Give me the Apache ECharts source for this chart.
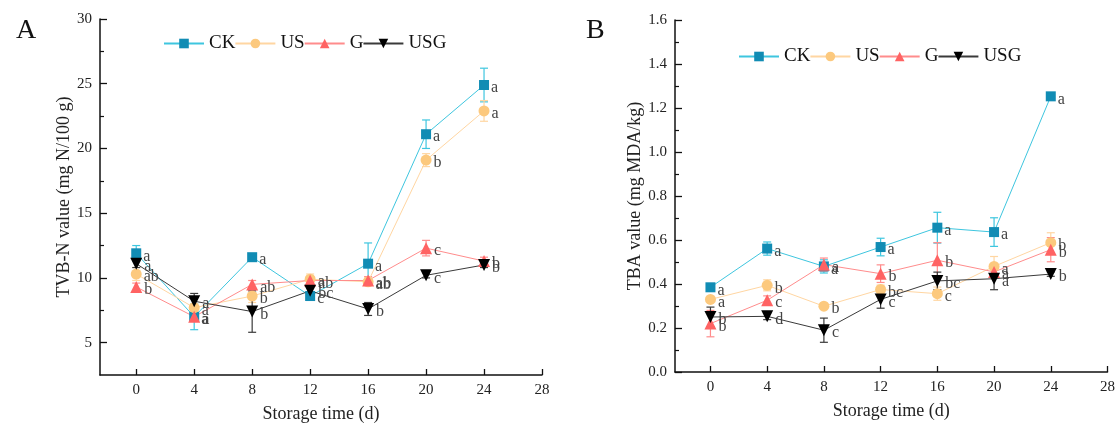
<!DOCTYPE html>
<html>
<head>
<meta charset="utf-8">
<script src="https://cdn.jsdelivr.net/npm/echarts@6/dist/echarts.min.js"></script>
<style>
  html, body { margin: 0; padding: 0; background: #fff; }
  #chart { width: 1118px; height: 428px; }
</style>
</head>
<body>
<div id="chart"></div>
<script>
// storage days
var days = [0, 4, 8, 12, 16, 20, 24];
var groups = ['CK', 'US', 'G', 'USG'];

// A: TVB-N (mg N/100 g)
var tvbnCK = [11.9, 7.0, 11.6, 8.6, 11.1, 21.1, 24.9];
var tvbnUS = [10.3, 7.7, 8.6, 9.9, 9.7, 19.1, 22.9];
var tvbnG = [9.3, 7.0, 9.5, 9.8, 9.8, 12.3, 11.3];
var tvbnUSG = [11.1, 8.2, 7.4, 9.0, 7.6, 10.2, 11.0];
var tvbnCKsd = [0.6, 1.0, 0.2, 0.3, 1.6, 1.1, 1.3];
var tvbnUSsd = [0.5, 0.3, 0.5, 0.4, 0.3, 0.5, 0.8];
var tvbnGsd = [0.3, 0.3, 0.3, 0.3, 0.3, 0.6, 0.3];
var tvbnUSGsd = [0.3, 0.6, 1.6, 0.3, 0.5, 0.2, 0.2];
var tvbnCKsig = ['a', 'a', 'a', 'c', 'a', 'a', 'a'];
var tvbnUSsig = ['ab', 'a', 'b', 'a', 'ab', 'b', 'a'];
var tvbnGsig = ['b', 'a', 'ab', 'ab', 'ab', 'c', 'b'];
var tvbnUSGsig = ['a', 'a', 'b', 'bc', 'b', 'c', 'b'];

// B: TBA (mg MDA/kg)
var tbaCK = [0.385, 0.561, 0.48, 0.568, 0.656, 0.636, 1.253];
var tbaUS = [0.33, 0.394, 0.299, 0.375, 0.356, 0.48, 0.588];
var tbaG = [0.22, 0.326, 0.488, 0.447, 0.508, 0.455, 0.556];
var tbaUSG = [0.25, 0.253, 0.19, 0.33, 0.414, 0.424, 0.445];
var tbaCKsd = [0.01, 0.03, 0.03, 0.04, 0.07, 0.065, 0.01];
var tbaUSsd = [0.01, 0.025, 0.01, 0.02, 0.03, 0.045, 0.045];
var tbaGsd = [0.06, 0.02, 0.03, 0.04, 0.08, 0.02, 0.055];
var tbaUSGsd = [0.045, 0.015, 0.055, 0.04, 0.04, 0.05, 0.01];
var tbaCKsig = ['a', 'a', 'a', 'a', 'a', 'a', 'a'];
var tbaUSsig = ['a', 'b', 'b', 'bc', 'c', 'a', 'b'];
var tbaGsig = ['b', 'c', 'a', 'b', 'b', 'a', 'b'];
var tbaUSGsig = ['b', 'd', 'c', 'c', 'bc', 'a', 'b'];

// tick labels
var xTicks = [0, 4, 8, 12, 16, 20, 24, 28];
var tvbnTicks = [5, 10, 15, 20, 25, 30];
var tvbnMinor = [7.5, 12.5, 17.5, 22.5, 27.5];

var serif = 'Liberation Serif';
var marker = { CK: '#118cb4', US: '#fcc97e', G: '#ff6363', USG: '#000000' };
var lineCol = { CK: '#3ec6df', US: '#ffd6a2', G: '#ff8c8c', USG: '#3a3a3a' };
var symbols = { CK: 'rect', US: 'circle', G: 'triangle', USG: 'path://M0,0L10,0L5,9Z' };
var symSize = { CK: 10, US: 11, G: 12, USG: 12 };

var chart = echarts.init(document.getElementById('chart'));

function lineSeries(name, vals, sig, idx) {
    return {
        name: name,
        type: 'line',
        xAxisIndex: idx,
        yAxisIndex: idx === 0 ? 0 : 2,
        data: days.map(function (d, i) { return [d, vals[i]]; }),
        symbol: symbols[name],
        symbolSize: symSize[name],
        showAllSymbol: true,
        itemStyle: { color: marker[name] },
        lineStyle: { color: lineCol[name], width: 1 },
        z: 3,
        label: {
            show: true,
            position: 'right',
            distance: 2,
            offset: [0, 3],
            fontFamily: serif,
            fontSize: 16,
            color: '#444',
            formatter: function (p) { return sig[p.dataIndex]; }
        }
    };
}

function errSeries(name, vals, sd, idx) {
    return {
        name: name + ' err',
        type: 'custom',
        xAxisIndex: idx,
        yAxisIndex: idx === 0 ? 0 : 2,
        z: 2,
        data: days.map(function (d, i) { return [d, vals[i] - sd[i], vals[i] + sd[i]]; }),
        renderItem: function (params, api) {
            var top = api.coord([api.value(0), api.value(2)]);
            var bot = api.coord([api.value(0), api.value(1)]);
            var w = 4;
            var st = { stroke: lineCol[name], lineWidth: 1.2 };
            return {
                type: 'group',
                children: [
                    { type: 'line', shape: { x1: top[0], y1: top[1], x2: bot[0], y2: bot[1] }, style: st },
                    { type: 'line', shape: { x1: top[0] - w, y1: top[1], x2: top[0] + w, y2: top[1] }, style: st },
                    { type: 'line', shape: { x1: bot[0] - w, y1: bot[1], x2: bot[0] + w, y2: bot[1] }, style: st }
                ]
            };
        }
    };
}

function xAxisOf(idx) {
    return {
        type: 'value',
        gridIndex: idx,
        min: -2.5,
        max: 28,
        name: 'Storage time (d)',
        nameLocation: 'middle',
        nameGap: 30,
        nameTextStyle: { fontFamily: serif, fontSize: 18, color: '#222' },
        axisLine: { show: true, onZero: false, lineStyle: { color: '#111', width: 1.5 } },
        axisTick: { show: true, inside: true, length: 6, customValues: xTicks, lineStyle: { color: '#111', width: 1.3 } },
        axisLabel: { customValues: xTicks, fontFamily: serif, fontSize: 15, color: '#222', margin: 8 },
        splitLine: { show: false }
    };
}

var legendText = { fontFamily: serif, fontSize: 19, color: '#111' };

var option = {
    backgroundColor: '#fff',
    animation: false,
    title: [
        { text: 'A', left: 11, top: 12, textStyle: { fontFamily: serif, fontSize: 28, fontWeight: 'normal', color: '#111' } },
        { text: 'B', left: 581, top: 12, textStyle: { fontFamily: serif, fontSize: 28, fontWeight: 'normal', color: '#111' } }
    ],
    legend: [
        {
            data: groups, left: 163, top: 34, padding: 0, itemWidth: 40, itemHeight: 12, itemGap: -1,
            textStyle: legendText
        },
        {
            data: groups, left: 738, top: 47, padding: 0, itemWidth: 40, itemHeight: 12, itemGap: -1,
            textStyle: legendText
        }
    ],
    grid: [
        { left: 100, top: 19, width: 442, height: 357 },
        { left: 675, top: 20, width: 436, height: 352 }
    ],
    xAxis: [xAxisOf(0), xAxisOf(1)],
    yAxis: [
        {
            type: 'value', gridIndex: 0, position: 'left', min: 2.5, max: 30, interval: 2.5,
            name: 'TVB-N value (mg N/100 g)',
            nameLocation: 'middle', nameGap: 26,
            nameTextStyle: { fontFamily: serif, fontSize: 18, color: '#222' },
            axisLine: { show: true, onZero: false, lineStyle: { color: '#111', width: 1.5 } },
            axisTick: { show: true, inside: true, length: 7, customValues: tvbnTicks, lineStyle: { color: '#111', width: 1.3 } },
            axisLabel: { customValues: tvbnTicks, fontFamily: serif, fontSize: 15, color: '#222', margin: 8 },
            splitLine: { show: false }
        },
        {
            type: 'value', gridIndex: 0, position: 'left', offset: 0, min: 2.5, max: 30, interval: 2.5,
            axisLine: { show: false, onZero: false },
            axisTick: { show: true, inside: true, length: 4, customValues: tvbnMinor, lineStyle: { color: '#111', width: 1.2 } },
            axisLabel: { show: false },
            splitLine: { show: false }
        },
        {
            type: 'value', gridIndex: 1, position: 'left', min: 0, max: 1.6, interval: 0.2,
            name: 'TBA value (mg MDA/kg)',
            nameLocation: 'middle', nameGap: 31,
            nameTextStyle: { fontFamily: serif, fontSize: 18, color: '#222' },
            axisLine: { show: true, onZero: false, lineStyle: { color: '#111', width: 1.5 } },
            axisTick: { show: true, inside: true, length: 7, lineStyle: { color: '#111', width: 1.3 } },
            minorTick: { show: true, splitNumber: 2, length: 4, lineStyle: { color: '#111', width: 1.2 } },
            axisLabel: { fontFamily: serif, fontSize: 15, color: '#222', margin: 8, formatter: function (v) { return v.toFixed(1); } },
            splitLine: { show: false }
        }
    ],
    series: [
        errSeries('CK', tvbnCK, tvbnCKsd, 0),
        errSeries('US', tvbnUS, tvbnUSsd, 0),
        errSeries('G', tvbnG, tvbnGsd, 0),
        errSeries('USG', tvbnUSG, tvbnUSGsd, 0),
        lineSeries('CK', tvbnCK, tvbnCKsig, 0),
        lineSeries('US', tvbnUS, tvbnUSsig, 0),
        lineSeries('G', tvbnG, tvbnGsig, 0),
        lineSeries('USG', tvbnUSG, tvbnUSGsig, 0),
        errSeries('CK', tbaCK, tbaCKsd, 1),
        errSeries('US', tbaUS, tbaUSsd, 1),
        errSeries('G', tbaG, tbaGsd, 1),
        errSeries('USG', tbaUSG, tbaUSGsd, 1),
        lineSeries('CK', tbaCK, tbaCKsig, 1),
        lineSeries('US', tbaUS, tbaUSsig, 1),
        lineSeries('G', tbaG, tbaGsig, 1),
        lineSeries('USG', tbaUSG, tbaUSGsig, 1)
    ]
};

chart.setOption(option);
window.onresize = chart.resize;
</script>
</body>
</html>
